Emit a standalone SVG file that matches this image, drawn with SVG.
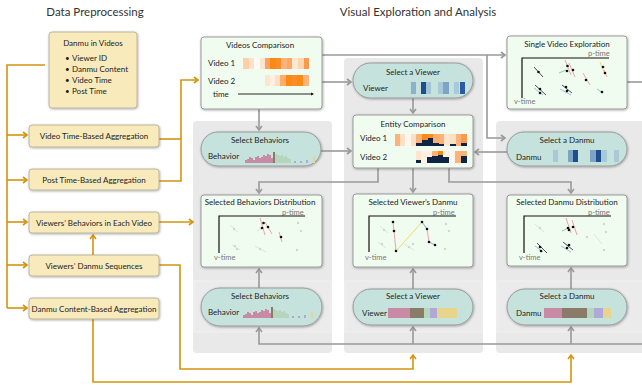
<svg xmlns="http://www.w3.org/2000/svg" width="642" height="385" viewBox="0 0 642 385">
<defs>
<filter id="sh" x="-10%" y="-10%" width="120%" height="130%"><feDropShadow dx="0.6" dy="0.8" stdDeviation="0.8" flood-color="#000" flood-opacity="0.35"/></filter>
<marker id="ao" markerUnits="userSpaceOnUse" markerWidth="8" markerHeight="8" refX="5" refY="4" orient="auto"><path d="M1,1 L5,4 L1,7" fill="none" stroke="#d4940c" stroke-width="1.6"/></marker>
<marker id="ag" markerUnits="userSpaceOnUse" markerWidth="8" markerHeight="8" refX="5" refY="4" orient="auto"><path d="M1,1 L5,4 L1,7" fill="none" stroke="#999" stroke-width="1.6"/></marker>
<style>
text{font-family:"Lato","Liberation Sans",sans-serif;fill:#222}
.h{font-size:11.5px;text-anchor:middle;fill:#333}
.t{font-size:8px;text-anchor:middle}
.l{font-size:8px}
.ax{font-size:7.5px;fill:#777}
.cream{fill:#f9eabb;stroke:#b0a890;stroke-width:0.8;filter:url(#sh)}
.gbox{fill:#f0fcef;stroke:#9a9a9a;stroke-width:1;filter:url(#sh)}
.pill{fill:#c6e2dc;stroke:#9a9a9a;stroke-width:1;filter:url(#sh)}
.cont{fill:#e9e9e9}
.band{fill:#ebebeb;stroke:#f2f2f2;stroke-width:0.8}
.o{fill:none;stroke:#d4940c;stroke-width:1.6}
.g{fill:none;stroke:#999;stroke-width:1.6}
.axis{fill:none;stroke:#111;stroke-width:1.2}
.fd{fill:#cfd8cf}
.fl{stroke:#d8e0d8;stroke-width:0.8}
.pk{stroke:#f08a9a;stroke-width:0.8}
.bl{stroke:#7fb0e0;stroke-width:0.8}
.gr{stroke:#6cc2a0;stroke-width:0.8}
.yl{stroke:#f0d040;stroke-width:0.8}
.dk{stroke:#222;stroke-width:0.8}
.p{fill:#c98aa6}.b{fill:#8a7a68}.gn{fill:#b5d6bd}.lv{fill:#b0a8d8}.yw{fill:#e8d48a}
</style>
</defs>
<rect width="642" height="385" fill="#fff"/>

<text class="h" x="95" y="16">Data Preprocessing</text>
<text class="h" x="418" y="16">Visual Exploration and Analysis</text>

<!-- containers -->
<rect class="cont" x="193" y="121" width="139" height="232" rx="4"/>
<rect class="cont" x="344" y="58" width="139" height="295" rx="4"/>
<rect class="cont" x="496" y="121" width="160" height="232" rx="4"/>
<rect class="band" x="194" y="281" width="137" height="51"/>
<rect class="band" x="345" y="281" width="137" height="51"/>
<rect class="band" x="497" y="281" width="150" height="51"/>

<!-- connectors -->
<g id="connectors">
<path class="o" d="M45,65 H7 V308"/>
<path class="o" d="M7,135 H27" marker-end="url(#ao)"/>
<path class="o" d="M7,180 H27" marker-end="url(#ao)"/>
<path class="o" d="M7,222 H27" marker-end="url(#ao)"/>
<path class="o" d="M7,265 H27" marker-end="url(#ao)"/>
<path class="o" d="M7,308 H27" marker-end="url(#ao)"/>
<path class="o" d="M159,139 H181"/>
<path class="o" d="M159,181 H181 V80 H198" marker-end="url(#ao)"/>
<path class="o" d="M159,222 H193" marker-end="url(#ao)"/>
<path class="o" d="M93,255 V235" marker-end="url(#ao)"/>
<path class="o" d="M159,265 H180 V369 H413 V355" marker-end="url(#ao)"/>
<path class="o" d="M93,319 V382 H571 V355" marker-end="url(#ao)"/>

<path class="g" d="M322,55 H505" marker-end="url(#ag)"/>
<path class="g" d="M487,55 V138 H505" marker-end="url(#ag)"/>
<path class="g" d="M322,82 H351" marker-end="url(#ag)"/>
<path class="g" d="M259,109 V130" marker-end="url(#ag)"/>
<path class="g" d="M321,151 H351" marker-end="url(#ag)"/>
<path class="g" d="M413,98 V113" marker-end="url(#ag)"/>
<path class="g" d="M507,152 H475" marker-end="url(#ag)"/>
<path class="g" d="M627,82 H642"/>
<path class="g" d="M378,168 V182 H259 V193" marker-end="url(#ag)"/>
<path class="g" d="M413,168 V192" marker-end="url(#ag)"/>
<path class="g" d="M449,168 V182 H571 V193" marker-end="url(#ag)"/>
<path class="g" d="M259,288 V269" marker-end="url(#ag)"/>
<path class="g" d="M413,289 V269" marker-end="url(#ag)"/>
<path class="g" d="M571,289 V268" marker-end="url(#ag)"/>
<path class="g" d="M642,344 H259 V328" marker-end="url(#ag)"/>
<path class="g" d="M413,344 V327" marker-end="url(#ag)"/>
<path class="g" d="M571,344 V327" marker-end="url(#ag)"/>
</g>

<!-- preprocessing nodes -->
<g id="danmu-in-videos">
<rect class="cream" x="49" y="32" width="88" height="76" rx="3"/>
<text class="t" x="93" y="46">Danmu in Videos</text>
<text class="l" x="65" y="61">•</text><text class="l" x="72" y="61">Viewer ID</text>
<text class="l" x="65" y="72">•</text><text class="l" x="72" y="72">Danmu Content</text>
<text class="l" x="65" y="83">•</text><text class="l" x="72" y="83">Video Time</text>
<text class="l" x="65" y="94">•</text><text class="l" x="72" y="94">Post Time</text>
</g>
<g id="video-time-agg"><rect class="cream" x="29" y="125" width="130" height="22" rx="3"/><text class="t" x="94" y="139">Video Time-Based Aggregation</text></g>
<g id="post-time-agg"><rect class="cream" x="29" y="169" width="130" height="21" rx="3"/><text class="t" x="94" y="182.5">Post Time-Based Aggregation</text></g>
<g id="viewers-behaviors"><rect class="cream" x="29" y="212" width="130" height="21" rx="3"/><text class="t" x="94" y="225.5">Viewers’ Behaviors in Each Video</text></g>
<g id="viewers-danmu-seq"><rect class="cream" x="29" y="255" width="130" height="21" rx="3"/><text class="t" x="94" y="268.5">Viewers’ Danmu Sequences</text></g>
<g id="danmu-content-agg"><rect class="cream" x="29" y="298" width="130" height="21" rx="3"/><text class="t" x="94" y="311.5">Danmu Content-Based Aggregation</text></g>

<!-- Videos Comparison -->
<g id="videos-comparison">
<rect class="gbox" x="201" y="37" width="121" height="72" rx="3"/>
<text class="t" x="260" y="48">Videos Comparison</text>
<text class="l" x="208" y="66">Video 1</text>
<text class="l" x="208" y="84">Video 2</text>
<text class="l" x="213" y="97">time</text>
<g>
<rect x="243" y="58" width="6" height="11" fill="#fdcfa6"/>
<rect x="249" y="58" width="5" height="11" fill="#fde3c8"/>
<rect x="254" y="58" width="6" height="11" fill="#fffaf4"/>
<rect x="260" y="58" width="5" height="11" fill="#fde6cf"/>
<rect x="265" y="58" width="5" height="11" fill="#fba060"/>
<rect x="270" y="58" width="6" height="11" fill="#f98a14"/>
<rect x="276" y="58" width="5" height="11" fill="#fb8c28"/>
<rect x="281" y="58" width="6" height="11" fill="#fdb27a"/>
<rect x="287" y="58" width="5" height="11" fill="#fda862"/>
<rect x="292" y="58" width="6" height="11" fill="#fee8d2"/>
<rect x="298" y="58" width="6" height="11" fill="#fdd6b0"/>
<rect x="304" y="58" width="5" height="11" fill="#fb9a4c"/>
<rect x="265" y="75" width="5" height="11" fill="#fee6ce"/>
<rect x="270" y="75" width="5" height="11" fill="#fff0e2"/>
<rect x="275" y="75" width="5" height="11" fill="#fde0c4"/>
<rect x="280" y="75" width="6" height="11" fill="#fdae6b"/>
<rect x="286" y="75" width="6" height="11" fill="#f98a14"/>
<rect x="292" y="75" width="5" height="11" fill="#fb8c28"/>
<rect x="297" y="75" width="6" height="11" fill="#f98a14"/>
<rect x="303" y="75" width="6" height="11" fill="#fdb27a"/>
</g>
<line x1="238" y1="94" x2="313" y2="94" stroke="#111" stroke-width="0.9"/>
<path d="M311,92.5 L314,94 L311,95.5" fill="#111"/>
</g>

<!-- Select Behaviors top -->
<g id="select-behaviors-top">
<rect class="pill" x="201" y="132" width="120" height="34" rx="17"/>
<text class="t" x="260" y="143">Select Behaviors</text>
<text class="l" x="208" y="159">Behavior</text>
<g id="histo1">
<rect class="p" x="245" y="160" width="2" height="3"/><rect class="p" x="247" y="159" width="2" height="4"/><rect class="p" x="249" y="157" width="2" height="6"/><rect class="p" x="251" y="158" width="2" height="5"/><rect class="p" x="253" y="160" width="2" height="3"/><rect class="p" x="255" y="157" width="2" height="6"/><rect class="p" x="257" y="156" width="2" height="7"/><rect class="p" x="259" y="158" width="2" height="5"/><rect class="p" x="261" y="157" width="2" height="6"/><rect class="p" x="263" y="155" width="2" height="8"/><rect class="p" x="265" y="156" width="2" height="7"/><rect class="p" x="267" y="154" width="2" height="9"/><rect class="p" x="269" y="155" width="2" height="8"/><rect class="p" x="271" y="158" width="2" height="5"/>
<rect class="b" x="273" y="152" width="2" height="11"/>
<rect class="gn" x="275" y="154" width="2" height="9"/><rect class="gn" x="277" y="155" width="2" height="8"/><rect class="gn" x="279" y="156" width="2" height="7"/><rect class="gn" x="281" y="155" width="2" height="8"/><rect class="gn" x="283" y="157" width="2" height="6"/><rect class="gn" x="285" y="156" width="2" height="7"/><rect class="gn" x="287" y="158" width="2" height="5"/><rect class="gn" x="289" y="159" width="2" height="4"/>
<rect class="lv" x="294" y="161" width="2" height="2"/><rect class="lv" x="300" y="161" width="2" height="2"/><rect class="lv" x="306" y="160" width="2" height="3"/>
<rect class="yw" x="313" y="157" width="2" height="6"/>
</g>
</g>

<!-- Select a Viewer top -->
<g id="select-viewer-top">
<rect class="pill" x="353" y="63" width="120" height="35" rx="17.5"/>
<text class="t" x="413" y="75">Select a Viewer</text>
<text class="l" x="363" y="91">Viewer</text>
<rect x="411" y="82" width="5" height="12" fill="#8fb0cc"/>
<rect x="421" y="82" width="5" height="12" fill="#1f4e8c"/>
<rect x="426" y="82" width="5" height="12" fill="#a3c3d6"/>
<rect x="438" y="82" width="5" height="12" fill="#a9c8d8"/>
<rect x="443" y="82" width="6" height="12" fill="#7fa3c4"/>
<rect x="454" y="82" width="5" height="12" fill="#a9c8d8"/>
<rect x="460" y="82" width="5" height="12" fill="#2a5aa0"/>
</g>

<!-- Entity Comparison -->
<g id="entity-comparison">
<rect class="gbox" x="353" y="115" width="120" height="53" rx="3"/>
<text class="t" x="413" y="127">Entity Comparison</text>
<text class="l" x="360" y="141">Video 1</text>
<text class="l" x="360" y="160">Video 2</text>
<g>
<rect x="395" y="134" width="5" height="12" fill="#fdb27a"/>
<rect x="400" y="134" width="5" height="12" fill="#fde0c4"/>
<rect x="405" y="134" width="6" height="12" fill="#fff7ee"/>
<rect x="411" y="134" width="5" height="12" fill="#fde0c4"/>
<rect x="416" y="134" width="6" height="12" fill="#fdb27a"/><rect x="416" y="143" width="6" height="3" fill="#0d2444"/>
<rect x="422" y="134" width="6" height="12" fill="#f98a14"/><rect x="422" y="140" width="6" height="6" fill="#0d2444"/>
<rect x="428" y="134" width="5" height="12" fill="#fb8c28"/><rect x="428" y="138" width="5" height="8" fill="#0d2444"/>
<rect x="433" y="134" width="6" height="12" fill="#fdae6b"/><rect x="433" y="143" width="6" height="3" fill="#0d2444"/>
<rect x="439" y="134" width="5" height="12" fill="#fdb27a"/><rect x="439" y="144" width="5" height="2" fill="#0d2444"/>
<rect x="444" y="134" width="6" height="12" fill="#fee6ce"/>
<rect x="450" y="134" width="6" height="12" fill="#fde0c4"/><rect x="450" y="144" width="6" height="2" fill="#0d2444"/>
<rect x="456" y="134" width="5" height="12" fill="#fdb27a"/>
<rect x="461" y="134" width="6" height="12" fill="#fb9a4c"/><rect x="461" y="143" width="6" height="3" fill="#0d2444"/>
<rect x="416" y="151" width="5" height="12" fill="#fee6ce"/><rect x="416" y="160" width="5" height="3" fill="#0d2444"/>
<rect x="421" y="151" width="6" height="12" fill="#fff0e2"/>
<rect x="427" y="151" width="5" height="12" fill="#fff0e2"/><rect x="427" y="157" width="5" height="6" fill="#0d2444"/>
<rect x="432" y="151" width="6" height="12" fill="#fdb27a"/><rect x="432" y="156" width="6" height="7" fill="#0d2444"/>
<rect x="438" y="151" width="5" height="12" fill="#f98a14"/><rect x="438" y="155" width="5" height="8" fill="#0d2444"/>
<rect x="443" y="151" width="6" height="12" fill="#fff0e2"/><rect x="443" y="157" width="6" height="6" fill="#0d2444"/>
<rect x="449" y="151" width="6" height="12" fill="#fff7ee"/>
<rect x="455" y="151" width="6" height="12" fill="#fdb27a"/>
<rect x="461" y="151" width="6" height="12" fill="#fdb27a"/><rect x="461" y="156" width="6" height="7" fill="#0d2444"/>
</g>
</g>

<!-- Single Video Exploration -->
<g id="single-video-exploration">
<rect class="gbox" x="507" y="36" width="120" height="73" rx="3"/>
<text class="t" x="567" y="47">Single Video Exploration</text>
<text class="ax" x="588" y="55.5">p-time</text>
<path class="axis" d="M609,58 H522 V98"/>
<text class="ax" x="514" y="104">v-time</text>
<line class="dk" x1="534" y1="67" x2="543" y2="77"/>
<line class="pk" x1="565" y1="60" x2="571" y2="75"/><line class="pk" x1="569" y1="63" x2="575" y2="77"/><line class="gr" x1="559" y1="73" x2="566" y2="70"/>
<line class="pk" x1="583" y1="73" x2="590" y2="85"/>
<line class="yl" x1="600" y1="62" x2="604" y2="72"/><line class="pk" x1="604" y1="70" x2="607" y2="77"/>
<line class="dk" x1="535" y1="85" x2="546" y2="95"/><line class="bl" x1="534" y1="88" x2="543" y2="95"/>
<line class="dk" x1="562" y1="85" x2="572" y2="93"/><line class="bl" x1="560" y1="89" x2="571" y2="95"/>
<line class="bl" x1="597" y1="89" x2="603" y2="93"/>
<g fill="#111"><circle cx="538.5" cy="72" r="1.3"/><circle cx="567.5" cy="66" r="1.3"/><circle cx="567" cy="71" r="1.3"/><circle cx="573" cy="70" r="1.3"/><circle cx="586" cy="80" r="1.3"/><circle cx="603" cy="67" r="1.3"/><circle cx="605" cy="73" r="1.3"/><circle cx="540" cy="89" r="1.3"/><circle cx="540" cy="93" r="1.3"/><circle cx="566" cy="87" r="1.3"/><circle cx="567" cy="91" r="1.3"/><circle cx="602" cy="92" r="1.3"/></g>
</g>

<!-- Select a Danmu top -->
<g id="select-danmu-top">
<rect class="pill" x="507" y="132" width="120" height="34" rx="17"/>
<text class="t" x="567" y="143">Select a Danmu</text>
<text class="l" x="516" y="160">Danmu</text>
<rect x="553" y="150" width="5" height="12" fill="#a9c8d8"/>
<rect x="568" y="150" width="5" height="12" fill="#7fa3c4"/>
<rect x="573" y="150" width="5" height="12" fill="#1f4e8c"/>
<rect x="590" y="150" width="6" height="12" fill="#7fa3c4"/>
<rect x="596" y="150" width="5" height="12" fill="#1f4e8c"/>
<rect x="601" y="150" width="6" height="12" fill="#a9c8d8"/>
<rect x="614" y="150" width="5" height="12" fill="#a9c8d8"/>
</g>

<!-- Selected Behaviors Distribution -->
<g id="selected-behaviors-distribution">
<rect class="gbox" x="201" y="195" width="121" height="72" rx="3"/>
<text class="t" x="260" y="204.5">Selected Behaviors Distribution</text>
<text class="ax" x="282" y="214.5">p-time</text>
<path class="axis" d="M305,216 H219 V253"/>
<text class="ax" x="214" y="260">v-time</text>
<line class="fl" x1="230" y1="225" x2="238" y2="232"/><circle class="fd" cx="234" cy="229" r="1.2"/>
<line class="fl" x1="232" y1="245" x2="240" y2="250"/><circle class="fd" cx="235" cy="246" r="1.2"/><circle class="fd" cx="237" cy="249" r="1.2"/>
<line class="fl" x1="255" y1="246" x2="266" y2="252"/><circle class="fd" cx="260" cy="249" r="1.2"/>
<circle class="fd" cx="298" cy="223" r="1.2"/><circle class="fd" cx="301" cy="231" r="1.2"/><circle class="fd" cx="297" cy="250" r="1.2"/>
<line class="pk" x1="260" y1="218" x2="265" y2="235"/><line class="pk" x1="265" y1="222" x2="272" y2="234"/><line class="pk" x1="279" y1="232" x2="282" y2="242"/>
<line class="fl" x1="257" y1="231" x2="263" y2="228"/>
<g fill="#111"><circle cx="263.5" cy="223" r="1.3"/><circle cx="262" cy="228" r="1.3"/><circle cx="268" cy="227" r="1.3"/><circle cx="281" cy="237" r="1.3"/></g>
</g>

<!-- Selected Viewer's Danmu -->
<g id="selected-viewers-danmu">
<rect class="gbox" x="353" y="194" width="120" height="73" rx="3"/>
<text class="t" x="413" y="204.5">Selected Viewer’s Danmu</text>
<text class="ax" x="433" y="214.5">p-time</text>
<path class="axis" d="M456,216 H369 V252"/>
<text class="ax" x="365" y="260">v-time</text>
<line class="fl" x1="380" y1="226" x2="388" y2="233"/><circle class="fd" cx="384" cy="230" r="1.2"/>
<line class="fl" x1="378" y1="242" x2="386" y2="248"/><circle class="fd" cx="382" cy="244" r="1.2"/>
<line class="fl" x1="404" y1="244" x2="414" y2="250"/><circle class="fd" cx="409" cy="247" r="1.2"/><circle class="fd" cx="413" cy="244" r="1.2"/>
<circle class="fd" cx="446" cy="224" r="1.2"/><circle class="fd" cx="449" cy="231" r="1.2"/><circle class="fd" cx="445" cy="249" r="1.2"/>
<path d="M393,222 L394,231 L396,251" fill="none" stroke="#f08a9a" stroke-width="0.8"/>
<path d="M396,251 L422,222" fill="none" stroke="#f0d040" stroke-width="0.8"/>
<path d="M422,222 L427,229" fill="none" stroke="#6a9ac8" stroke-width="0.8"/>
<path d="M427,229 L429,242" fill="none" stroke="#f08a9a" stroke-width="0.8"/>
<path d="M429,242 L435,245" fill="none" stroke="#6a9ac8" stroke-width="0.8"/>
<g fill="#111"><circle cx="393" cy="222" r="1.3"/><circle cx="394" cy="231" r="1.3"/><circle cx="396" cy="251" r="1.3"/><circle cx="422" cy="222" r="1.3"/><circle cx="427" cy="229" r="1.3"/><circle cx="429" cy="242" r="1.3"/><circle cx="435" cy="245" r="1.3"/></g>
</g>

<!-- Selected Danmu Distribution -->
<g id="selected-danmu-distribution">
<rect class="gbox" x="507" y="195" width="120" height="71" rx="3"/>
<text class="t" x="567" y="204.5">Selected Danmu Distribution</text>
<text class="ax" x="588" y="214.5">p-time</text>
<path class="axis" d="M611,216 H524 V253"/>
<text class="ax" x="519" y="260">v-time</text>
<line class="fl" x1="535" y1="224" x2="544" y2="232"/><circle class="fd" cx="540" cy="228" r="1.2"/>
<circle class="fd" cx="604" cy="224" r="1.2"/><circle class="fd" cx="606" cy="232" r="1.2"/><circle class="fd" cx="587" cy="237" r="1.2"/><circle class="fd" cx="604" cy="250" r="1.2"/>
<line class="fl" x1="594" y1="234" x2="602" y2="244"/>
<line class="pk" x1="566" y1="218" x2="571" y2="233"/><line class="pk" x1="572" y1="220" x2="577" y2="235"/>
<line class="gr" x1="562" y1="231" x2="568" y2="228"/>
<line class="dk" x1="537" y1="243" x2="547" y2="253"/><line class="bl" x1="535" y1="246" x2="543" y2="252"/>
<line class="dk" x1="563" y1="242" x2="573" y2="250"/><line class="bl" x1="561" y1="246" x2="571" y2="252"/>
<g fill="#111"><circle cx="568" cy="228" r="1.3"/><circle cx="573" cy="227" r="1.3"/><circle cx="569" cy="230" r="1.3"/><circle cx="540" cy="247" r="1.3"/><circle cx="541" cy="251" r="1.3"/><circle cx="567" cy="248" r="1.3"/><circle cx="569" cy="245" r="1.3"/></g>
</g>

<!-- bottom pills -->
<g id="select-behaviors-bottom">
<rect class="pill" x="201" y="288" width="121" height="38" rx="19"/>
<text class="t" x="260" y="299">Select Behaviors</text>
<text class="l" x="208" y="315">Behavior</text>
<use href="#histo1" transform="translate(-2,155)"/>
</g>
<g id="select-viewer-bottom">
<rect class="pill" x="353" y="289" width="120" height="36" rx="18"/>
<text class="t" x="413" y="299">Select a Viewer</text>
<text class="l" x="362" y="316">Viewer</text>
<rect class="p" x="388" y="308" width="22" height="10"/>
<rect class="b" x="410" y="308" width="14" height="10"/>
<rect class="gn" x="424" y="308" width="6" height="10"/>
<rect class="lv" x="430" y="308" width="7" height="10"/>
<rect class="yw" x="437" y="308" width="20" height="10"/>
</g>
<g id="select-danmu-bottom">
<rect class="pill" x="507" y="289" width="120" height="36" rx="18"/>
<text class="t" x="567" y="299">Select a Danmu</text>
<text class="l" x="516" y="316">Danmu</text>
<rect class="p" x="544" y="308" width="18" height="10"/>
<rect class="b" x="562" y="308" width="25" height="10"/>
<rect class="gn" x="587" y="308" width="7" height="10"/>
<rect class="lv" x="594" y="308" width="9" height="10"/>
<rect class="yw" x="603" y="308" width="8" height="10"/>
</g>
</svg>
